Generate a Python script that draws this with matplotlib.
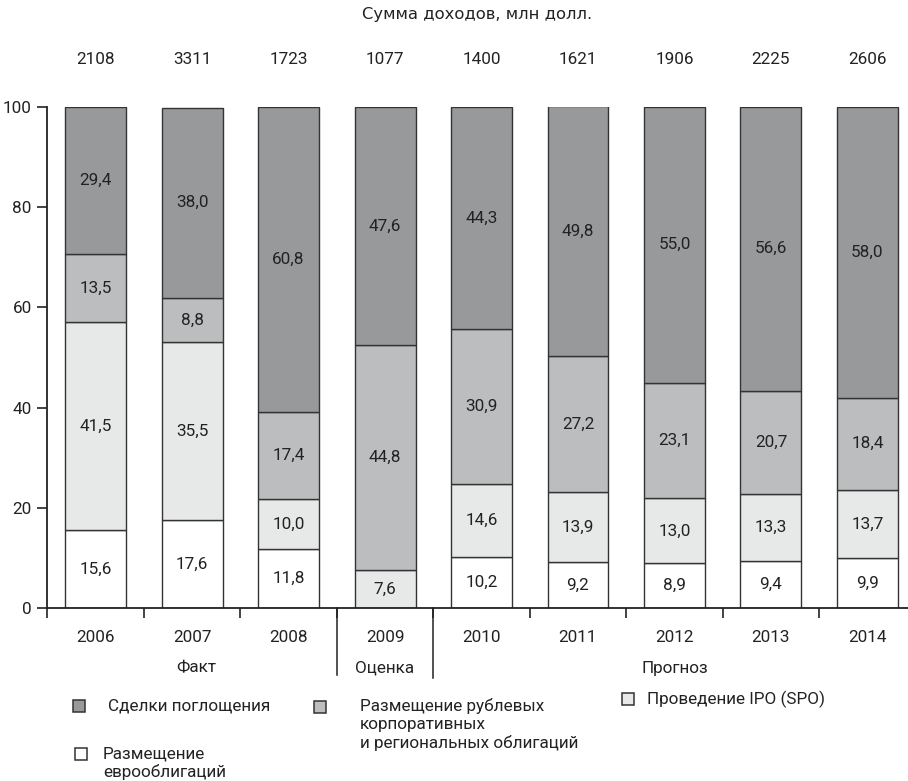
import matplotlib
matplotlib.use("Agg")
import matplotlib.pyplot as plt
from matplotlib.patches import Rectangle
from matplotlib.transforms import blended_transform_factory
import numpy as np

years = ["2006", "2007", "2008", "2009", "2010", "2011", "2012", "2013", "2014"]
totals = ["2108", "3311", "1723", "1077", "1400", "1621", "1906", "2225", "2606"]
eurobonds = [15.6, 17.6, 11.8, 0.0, 10.2, 9.2, 8.9, 9.4, 9.9]
ipo = [41.5, 35.5, 10.0, 7.6, 14.6, 13.9, 13.0, 13.3, 13.7]
ruble = [13.5, 8.8, 17.4, 44.8, 30.9, 27.2, 23.1, 20.7, 18.4]
mna = [29.4, 38.0, 60.8, 47.6, 44.3, 49.8, 55.0, 56.6, 58.0]
series_names = ["Размещение\nеврооблигаций", "Проведение IPO (SPO)",
                "Размещение рублевых\nкорпоративных\nи региональных облигаций",
                "Сделки поглощения"]
groups = ["Факт", "Оценка", "Прогноз"]
group_centers = [1.04, 3.0, 6.0]
title = "Сумма доходов, млн долл."

colors = ["#ffffff", "#e7e8e8", "#bcbdbf", "#98999b"]
edge = "#333333"
FN = ["Roboto", "DejaVu Sans"]
plt.rcParams["font.family"] = FN
FS = 12.3

W, H = 908, 781
fig = plt.figure(figsize=(W / 100, H / 100), dpi=100)
ax = fig.add_axes([47 / W, 1 - 608 / H, (908 - 47) / W, 501 / H])

x = np.arange(len(years))
bw = 0.632
data = [eurobonds, ipo, ruble, mna]
bottom = np.zeros(len(years))
for vals, col in zip(data, colors):
    vals = np.array(vals)
    ax.bar(x, vals, bw, bottom=bottom, color=col, edgecolor=edge, linewidth=1.0, zorder=2)
    for xi, b, v in zip(x, bottom, vals):
        if v > 0:
            ax.text(xi, b + v / 2, f"{v:.1f}".replace(".", ","), ha="center", va="center",
                    fontsize=FS, color="#222222", zorder=3)
    bottom += vals

ax.set_xlim(-0.503, 8.42)
ax.set_ylim(0, 100)
ax.set_yticks(np.arange(0, 101, 20))
ax.tick_params(axis="y", length=7, width=1.2, pad=4, labelsize=FS, colors="#222222")
ax.set_xticks(x)
ax.set_xticklabels(years)
ax.tick_params(axis="x", length=0, pad=16, labelsize=FS, colors="#222222")
ax.set_xticks(np.arange(-0.5, 8.0, 1.0), minor=True)
ax.tick_params(axis="x", which="minor", length=7, width=1.2, color="#222222")
for s in ["top", "right"]:
    ax.spines[s].set_visible(False)
for s in ["left", "bottom"]:
    ax.spines[s].set_linewidth(1.3)
    ax.spines[s].set_color("#222222")

tr = blended_transform_factory(ax.transData, ax.transAxes)
ax.plot([2.5, 2.5], [0, -(675 - 608) / 501], transform=tr, color="#222222", lw=1.1, clip_on=False)
ax.plot([3.5, 3.5], [0, -(678 - 608) / 501], transform=tr, color="#222222", lw=1.1, clip_on=False)

for gc, g in zip(group_centers, groups):
    ax.text(gc, -(668 - 608) / 501, g, transform=tr, ha="center", va="center",
            fontsize=FS, color="#222222")

for xi, t in zip(x, totals):
    ax.text(xi, 1 + (107 - 60) / 501, t, transform=tr, ha="center", va="center",
            fontsize=FS, color="#222222")

fig.text(477 / W, 1 - 15 / H, title, ha="center", va="center", fontsize=11.8,
         family="DejaVu Sans", color="#222222")

# legend
def leg_square(cx, cy, col):
    s = 12
    fig.add_artist(Rectangle(((cx - s / 2) / W, 1 - (cy + s / 2) / H), s / W, s / H,
                             transform=fig.transFigure, facecolor=col, edgecolor=edge, lw=1.1))

leg = [
    (3, 79, 706, 108, 706),
    (2, 320, 707, 360, 706),
    (1, 628, 699, 647, 699),
    (0, 81, 754, 103, 754),
]
for idx, sx, sy, tx, ty in leg:
    leg_square(sx, sy, colors[idx])
    for k, ln in enumerate(series_names[idx].split("\n")):
        fig.text(tx / W, 1 - (ty + k * 18.5) / H, ln, ha="left", va="center",
                 fontsize=FS, color="#222222")

fig.savefig("out.png", dpi=100)
